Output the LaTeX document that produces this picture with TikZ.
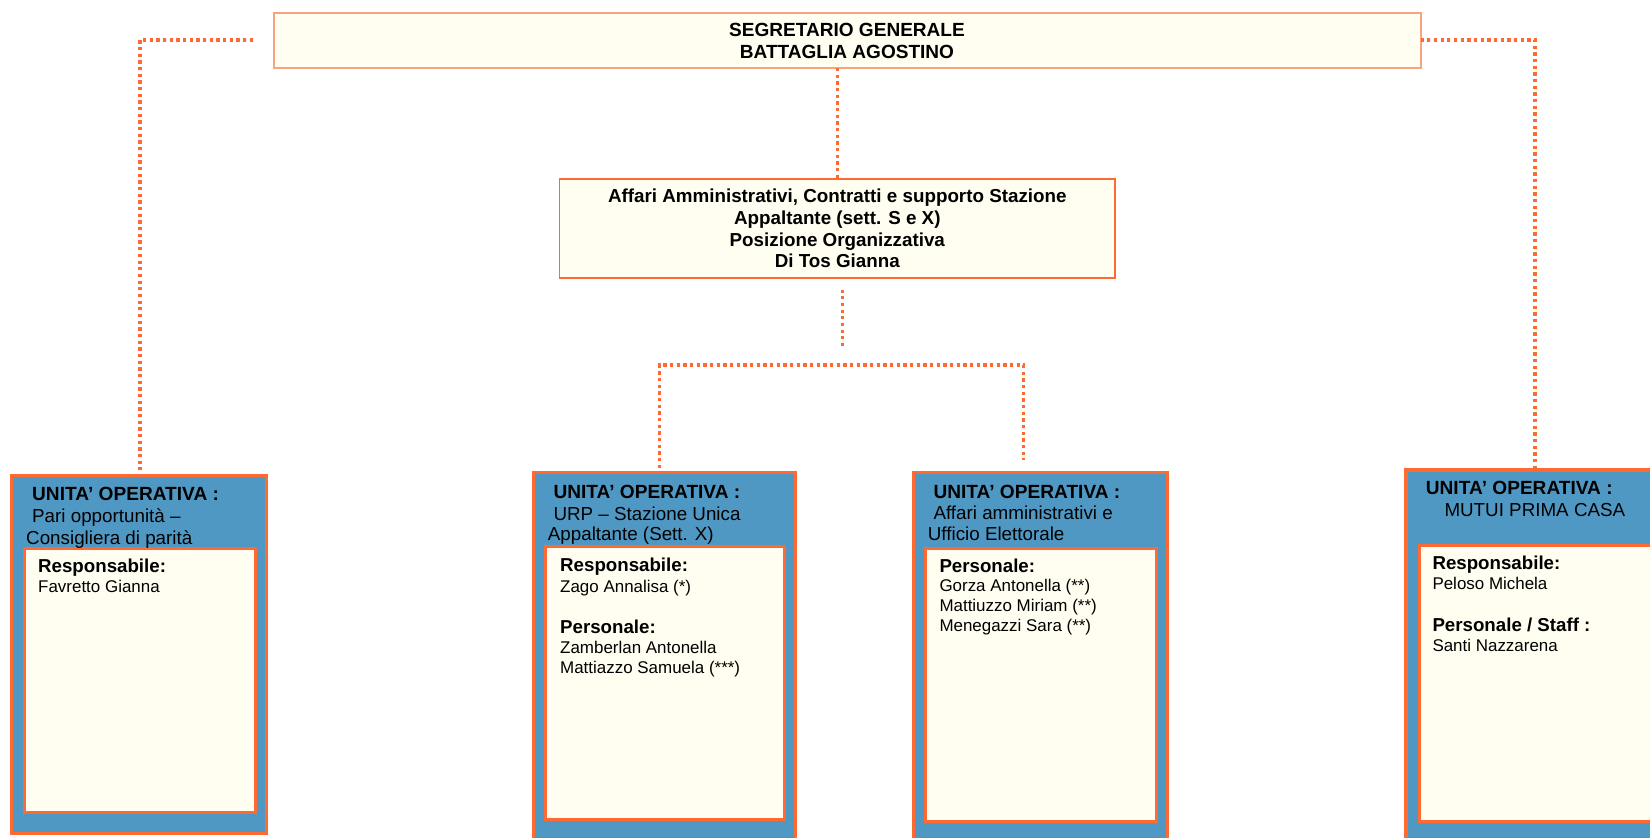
\documentclass[tikz,border=0pt]{standalone}
\usepackage{fontspec}
\setmainfont{Liberation Sans}
\definecolor{orangeC}{RGB}{255,106,51}
\definecolor{salmonC}{RGB}{249,164,128}
\definecolor{creamC}{RGB}{255,254,240}
\definecolor{blueC}{RGB}{80,152,196}
\tikzset{
  conn/.style={draw=orangeC, line width=3.4pt, dash pattern=on 3.3pt off 3.37pt},
  topbox/.style={draw=salmonC, line width=2pt, fill=creamC, rectangle, inner sep=0pt, outer sep=0pt,
    font=\fontsize{19.05}{22.2}\selectfont\bfseries, align=center},
  pobox/.style={draw=orangeC, line width=1.5pt, fill=creamC, rectangle, inner sep=0pt, outer sep=0pt,
    font=\fontsize{18.8}{21.7}\selectfont\bfseries, align=center},
  uouter/.style={draw=orangeC, line width=3.5pt, fill=blueC, rectangle, inner sep=0pt, outer sep=0pt, anchor=north west},
  uinner/.style={draw=orangeC, line width=3pt, fill=creamC, rectangle, inner sep=0pt, outer sep=0pt, anchor=north west},
  txbase/.style={anchor=west, inner sep=0pt, text depth=0pt, text=black},
  hdrbold/.style={txbase, font=\fontsize{19.1}{22}\selectfont\bfseries, text height=13.6pt},
  hdrreg/.style={txbase, font=\fontsize{18.8}{22}\selectfont, text height=13.46pt},
  inbold/.style={txbase, font=\fontsize{18.7}{22}\selectfont\bfseries, text height=13.3pt},
  inreg/.style={txbase, font=\fontsize{16.95}{20}\selectfont, text height=12.1pt},
}
\begin{document}
\begin{tikzpicture}[x=1pt,y=-1pt]
\clip (0,0) rectangle (1650,838);
\fill[white] (0,0) rectangle (1650,838);

% top boxes
\node[topbox, minimum width=1147pt, minimum height=54.6pt] (top) at (847,40.6)
  {SEGRETARIO GENERALE\\BATTAGLIA AGOSTINO};
\node[pobox, minimum width=555.4pt, minimum height=99pt] (po) at (837.3,228.6)
  {Affari Amministrativi, Contratti e supporto Stazione\\Appaltante (sett. S e X)\\Posizione Organizzativa\\Di Tos Gianna};

% unit boxes
\node[uouter, minimum width=254.6pt, minimum height=357.6pt] (u1) at (11.7,475.7) {};
\node[uinner, minimum width=230.4pt, minimum height=264pt] (i1) at (24.8,548.5) {};
\node[uouter, minimum width=262.2pt, minimum height=390pt] (u2) at (533.4,472.4) {};
\node[uinner, minimum width=238.4pt, minimum height=272.7pt] (i2) at (545.8,546.8) {};
\node[uouter, minimum width=253.9pt, minimum height=390pt] (u3) at (913.4,472.7) {};
\node[uinner, minimum width=230.4pt, minimum height=273.6pt] (i3) at (925.8,548.2) {};
\node[uouter, minimum width=300pt, minimum height=390pt] (u4) at (1406,470) {};
\node[uinner, minimum width=280pt, minimum height=276.3pt] (i4) at (1419.2,545.5) {};

% connectors
\coordinate (tl) at (253,40);
\coordinate (tr) at (1535,40);
\coordinate (d1) at (140,470);
\coordinate (d4) at (1535,470);
\draw[conn] (tl) -| (d1);
\draw[conn] (top.east |- tr) -- (tr) -- (d4);
\draw[conn] (po.north |- top.south) -- (po.north);
\coordinate (j1) at (842.6,289.5);
\coordinate (j2) at (842.6,349);
\draw[conn] (j1) -- (j2);
\coordinate (bar) at (842,365);
\coordinate (bl) at (659.5,468);
\coordinate (br) at (1023.5,460);
\draw[conn] (bl) -- (bl |- bar) -- (br |- bar) -- (br);

% box 1 texts
\node[hdrbold] (t1a) at (32,493.8) {UNITA’ OPERATIVA :};
\node[hdrreg] (t1b) at (32,516) {Pari opportunità –};
\node[hdrreg] (t1c) at (26,537.3) {Consigliera di parità};
\node[inbold] (t1d) at (38,565.8) {Responsabile:};
\node[inreg] (t1e) at (38,586.7) {Favretto Gianna};

% box 2 texts
\node[hdrbold] (t2a) at (553.3,491.7) {UNITA’ OPERATIVA :};
\node[hdrreg] (t2b) at (553.3,513.3) {URP – Stazione Unica};
\node[hdrreg] (t2c) at (547.7,534) {Appaltante (Sett. X)};
\node[inbold] (t2d) at (560,565) {Responsabile:};
\node[inreg] (t2e) at (560,586) {Zago Annalisa (*)};
\node[inbold] (t2f) at (560,627.3) {Personale:};
\node[inreg] (t2g) at (560,647.3) {Zamberlan Antonella};
\node[inreg] (t2h) at (560,667.3) {Mattiazzo Samuela (***)};

% box 3 texts
\node[hdrbold] (t3a) at (933.3,491.7) {UNITA’ OPERATIVA :};
\node[hdrreg] (t3b) at (933.3,513) {Affari amministrativi e};
\node[hdrreg] (t3c) at (927.7,534) {Ufficio Elettorale};
\node[inbold] (t3d) at (939.3,565.7) {Personale:};
\node[inreg] (t3e) at (939.3,585.7) {Gorza Antonella (**)};
\node[inreg] (t3f) at (939.3,605.7) {Mattiuzzo Miriam (**)};
\node[inreg] (t3g) at (939.3,625) {Menegazzi Sara (**)};

% box 4 texts
\node[hdrbold] (t4a) at (1425.7,487.7) {UNITA’ OPERATIVA :};
\node[hdrreg] (t4b) at (1444.3,510) {MUTUI PRIMA CASA};
\node[inbold] (t4c) at (1432.3,562.7) {Responsabile:};
\node[inreg] (t4d) at (1432.3,583.3) {Peloso Michela};
\node[inbold] (t4e) at (1432.3,625) {Personale / Staff :};
\node[inreg] (t4f) at (1432.3,645) {Santi Nazzarena};
\end{tikzpicture}
\end{document}
